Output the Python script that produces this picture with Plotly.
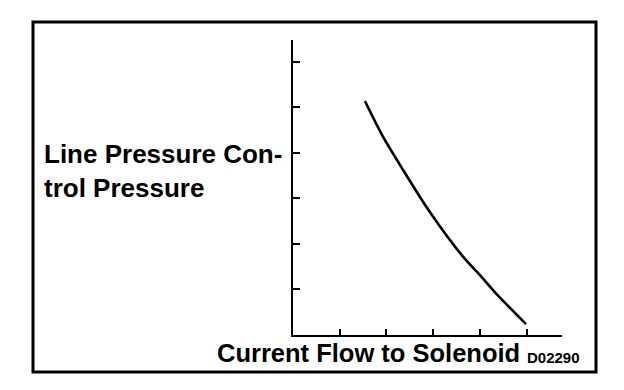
import plotly.graph_objects as go

# Data (arbitrary units)
current = [1.54, 1.93, 2.36, 2.93, 3.64, 4.00, 4.35, 4.99]
pressure = [5.14, 4.35, 3.62, 2.70, 1.72, 1.32, 0.91, 0.24]
x_ticks = [1, 2, 3, 4, 5]
y_ticks = [1, 2, 3, 4, 5, 6]

y_label = "Line Pressure Con-<br>trol Pressure"
x_label = "Current Flow to Solenoid"
code_label = "D02290"

W, H = 624, 390
FONT = "Liberation Sans, Arial, Helvetica, sans-serif"

def px(x):
    return x / W

def py(y):
    return 1 - y / H

fig = go.Figure()
fig.add_trace(go.Scatter(
    x=current, y=pressure, mode="lines",
    line=dict(color="black", width=2.6, shape="spline", smoothing=0.8),
    hoverinfo="skip", showlegend=False,
))

fig.update_layout(
    width=W, height=H,
    margin=dict(l=0, r=0, t=0, b=0),
    paper_bgcolor="white", plot_bgcolor="white",
    showlegend=False,
    xaxis=dict(
        domain=[px(293), px(562)], range=[0, 5.76],
        showline=True, linecolor="black", linewidth=2,
        showgrid=False, zeroline=False,
        ticks="inside", tickvals=x_ticks, ticklen=6, tickwidth=1.5, tickcolor="black",
        showticklabels=False, fixedrange=True,
    ),
    yaxis=dict(
        domain=[py(335), py(40)], range=[0, 6.48],
        showline=True, linecolor="black", linewidth=2,
        showgrid=False, zeroline=False,
        ticks="inside", tickvals=y_ticks, ticklen=7, tickwidth=1.5, tickcolor="black",
        showticklabels=False, fixedrange=True,
    ),
    shapes=[dict(
        type="rect", xref="paper", yref="paper",
        x0=px(33), x1=px(596), y0=py(372), y1=py(22),
        line=dict(color="black", width=3), fillcolor="rgba(0,0,0,0)",
    )],
    annotations=[
        dict(text=y_label, xref="paper", yref="paper", x=px(42), y=py(171),
             xanchor="left", yanchor="middle", showarrow=False, align="left",
             font=dict(family=FONT, size=26, color="black", weight="bold")),
        dict(text=x_label, xref="paper", yref="paper", x=px(215), y=py(353),
             xanchor="left", yanchor="middle", showarrow=False,
             font=dict(family=FONT, size=25.5, color="black", weight="bold")),
        dict(text=code_label, xref="paper", yref="paper", x=px(525), y=py(357),
             xanchor="left", yanchor="middle", showarrow=False,
             font=dict(family=FONT, size=15, color="black", weight="bold")),
    ],
)

fig.write_html("out.html", config={"displayModeBar": False})

# Remove the browser's default body margin so the figure sits at (0, 0)
with open("out.html", "r", encoding="utf-8") as f:
    html = f.read()
html = html.replace("<head>", "<head><style>html,body{margin:0;padding:0;}</style>", 1)
with open("out.html", "w", encoding="utf-8") as f:
    f.write(html)
